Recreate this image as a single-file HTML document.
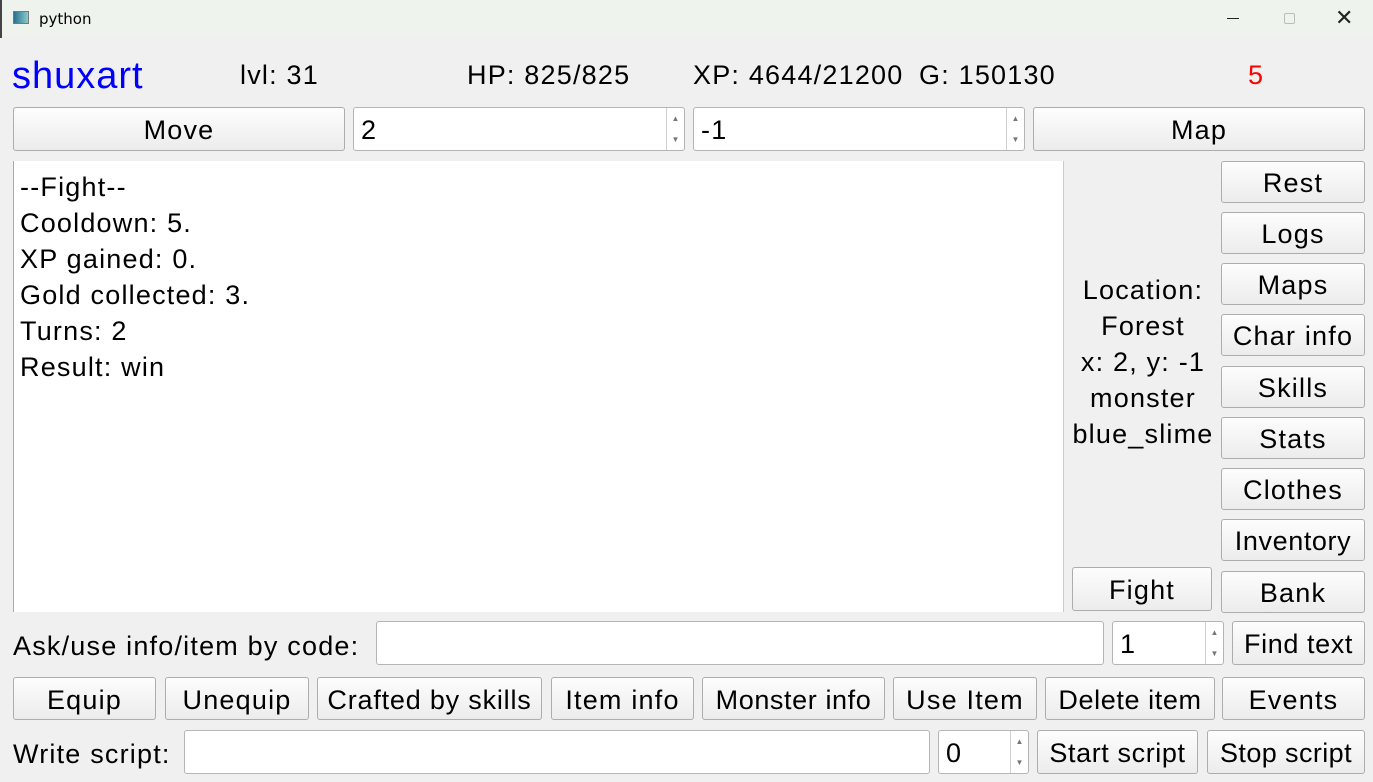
<!DOCTYPE html>
<html><head><meta charset="utf-8"><style>
*{box-sizing:border-box;margin:0;padding:0}
body{width:1373px;height:782px;background:#f0f0f0;font-family:"Liberation Sans",sans-serif;font-size:27px;letter-spacing:1.2px;color:#000;position:relative;overflow:hidden}
.a{position:absolute;white-space:nowrap}
.tb{position:absolute;left:0;top:0;width:1373px;height:38px;background:#eef3ee;border-left:2px solid #444;letter-spacing:0}
.btn{position:absolute;background:linear-gradient(#fdfdfd,#ececec);border:1px solid #adadad;border-radius:3px;display:flex;align-items:center;justify-content:center;white-space:nowrap;padding-top:3px}
.in{position:absolute;background:#fff;border:1px solid #b5b5b5;border-radius:3px;display:flex;align-items:center;padding-left:7px;padding-top:3px}
.sp{position:absolute;right:0;top:0;bottom:0;width:18px;border-left:1px solid #d0d0d0;font-size:8px;color:#777;display:flex;flex-direction:column;justify-content:space-around;align-items:center;line-height:1;letter-spacing:0}
.t{position:absolute;line-height:36px}
</style></head><body>
<div class="tb">
<div class="a" style="left:11px;top:11px;width:16px;height:13px;border:1px solid #777;background:linear-gradient(90deg,#2b6f8f,#8cc)"></div>
<div class="a" style="left:37px;top:10px;font-size:15px;font-family:'DejaVu Sans',sans-serif">python</div>
<div class="a" style="left:1225px;top:18px;width:12px;height:1px;background:#222"></div>
<div class="a" style="left:1282px;top:13px;width:11px;height:11px;border:1px solid #bbb;border-radius:2px"></div>
<div class="a" style="left:1333px;top:6px;font-size:22px;font-family:'DejaVu Sans',sans-serif;color:#222">✕</div>
</div>
<div class="a" style="left:12px;top:55px;font-size:38px;letter-spacing:1px;color:#0000ff">shuxart</div>
<div class="a" style="left:240px;top:60px">lvl: 31</div>
<div class="a" style="left:467px;top:60px">HP: 825/825</div>
<div class="a" style="left:693px;top:60px">XP: 4644/21200</div>
<div class="a" style="left:919px;top:60px">G: 150130</div>
<div class="a" style="left:1248px;top:60px;color:#f00">5</div>

<div class="btn" style="left:13px;top:107px;width:332px;height:44px">Move</div>
<div class="in" style="left:353px;top:107px;width:332px;height:44px">2<div class="sp"><span>▲</span><span>▼</span></div></div>
<div class="in" style="left:693px;top:107px;width:332px;height:44px">-1<div class="sp"><span>▲</span><span>▼</span></div></div>
<div class="btn" style="left:1033px;top:107px;width:332px;height:44px">Map</div>

<div class="a" style="left:13px;top:161px;width:1051px;height:451px;background:#fff;border-left:1px solid #aaa;border-right:1px solid #ccc"></div>
<div class="t" style="left:20px;top:169px">--Fight--<br>Cooldown: 5.<br>XP gained: 0.<br>Gold collected: 3.<br>Turns: 2<br>Result: win</div>

<div class="t" style="left:1064px;top:272px;width:158px;text-align:center">Location:<br>Forest<br>x: 2, y: -1<br>monster<br>blue_slime</div>

<div class="btn" style="left:1221px;top:161px;width:144px;height:42px">Rest</div>
<div class="btn" style="left:1221px;top:212px;width:144px;height:42px">Logs</div>
<div class="btn" style="left:1221px;top:263px;width:144px;height:42px">Maps</div>
<div class="btn" style="left:1221px;top:314px;width:144px;height:42px">Char info</div>
<div class="btn" style="left:1221px;top:366px;width:144px;height:42px">Skills</div>
<div class="btn" style="left:1221px;top:417px;width:144px;height:42px">Stats</div>
<div class="btn" style="left:1221px;top:468px;width:144px;height:42px">Clothes</div>
<div class="btn" style="left:1221px;top:519px;width:144px;height:42px;letter-spacing:0.6px">Inventory</div>
<div class="btn" style="left:1221px;top:571px;width:144px;height:42px">Bank</div>
<div class="btn" style="left:1072px;top:567px;width:140px;height:44px">Fight</div>

<div class="a" style="left:13px;top:631px">Ask/use info/item by code:</div>
<div class="in" style="left:376px;top:621px;width:728px;height:44px"></div>
<div class="in" style="left:1112px;top:621px;width:112px;height:44px">1<div class="sp"><span>▲</span><span>▼</span></div></div>
<div class="btn" style="left:1232px;top:621px;width:133px;height:44px;letter-spacing:0.6px">Find text</div>

<div class="btn" style="left:13px;top:677px;width:143px;height:43px">Equip</div>
<div class="btn" style="left:165px;top:677px;width:144px;height:43px">Unequip</div>
<div class="btn" style="left:317px;top:677px;width:225px;height:43px;letter-spacing:0.8px">Crafted by skills</div>
<div class="btn" style="left:551px;top:677px;width:143px;height:43px">Item info</div>
<div class="btn" style="left:702px;top:677px;width:183px;height:43px;letter-spacing:0.6px">Monster info</div>
<div class="btn" style="left:893px;top:677px;width:144px;height:43px">Use Item</div>
<div class="btn" style="left:1045px;top:677px;width:170px;height:43px;letter-spacing:0.6px">Delete item</div>
<div class="btn" style="left:1222px;top:677px;width:143px;height:43px">Events</div>

<div class="a" style="left:13px;top:739px">Write script:</div>
<div class="in" style="left:184px;top:730px;width:746px;height:44px"></div>
<div class="in" style="left:938px;top:730px;width:91px;height:44px">0<div class="sp"><span>▲</span><span>▼</span></div></div>
<div class="btn" style="left:1037px;top:730px;width:161px;height:44px;letter-spacing:0.6px">Start script</div>
<div class="btn" style="left:1207px;top:730px;width:158px;height:44px;letter-spacing:0.4px">Stop script</div>
</body></html>
